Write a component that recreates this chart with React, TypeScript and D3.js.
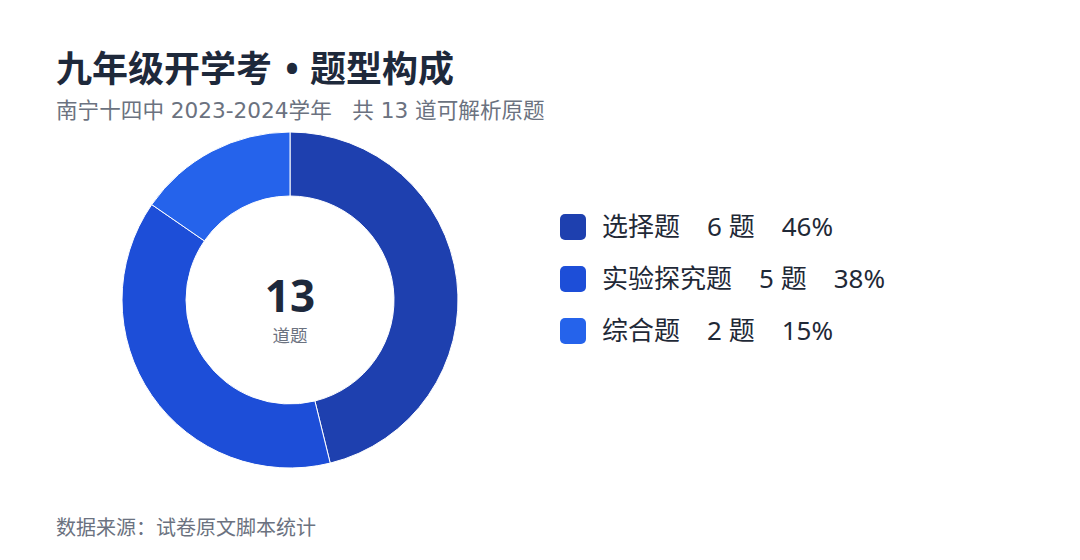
import React from "react";
import * as d3 from "d3";

const categories = ["选择题", "实验探究题", "综合题"];
const counts = [6, 5, 2];
const percents = ["46%", "38%", "15%"];
const colors = ["#1e40af", "#1d4ed8", "#2563eb"];

const W = 1080;
const H = 560;
const FONT = "'Noto Sans', 'Noto Sans CJK SC', sans-serif";
const FONT_SUB = "'DejaVu Sans', 'Noto Sans CJK SC', sans-serif";

export default function App() {
  const total = d3.sum(counts);
  const cx = 290;
  const cy = 300;
  const outerR = 168;
  const innerR = 104;
  const pie = d3.pie<number>().sort(null).value((d) => d);
  const arcs = pie(counts);
  const arc = d3.arc<d3.PieArcDatum<number>>().innerRadius(innerR).outerRadius(outerR);

  const legendY = d3.scaleBand<number>().domain(d3.range(categories.length)).range([201, 357]);

  return (
    <svg
      width={W}
      height={H}
      style={{ position: "absolute", left: 0, top: 0, background: "#fff" }}
      fontFamily={FONT}
    >
      <text y={82} fontSize={36} fontWeight={700} fill="#1e293b">
        <tspan x={56}>九年级开学考</tspan>
        <tspan x={292} textAnchor="middle">•</tspan>
        <tspan x={310}>题型构成</tspan>
      </text>
      <text x={56} y={118} fontSize={21.6} fill="#6b7280" fontFamily={FONT_SUB} xmlSpace="preserve">
        {"南宁十四中 2023-2024学年   共 13 道可解析原题"}
      </text>

      <g transform={`translate(${cx},${cy})`}>
        {arcs.map((a, i) => (
          <path key={i} d={arc(a) || ""} fill={colors[i]} stroke="#fff" strokeWidth={1} />
        ))}
        <text x={0} y={12} textAnchor="middle" fontSize={44} fontWeight={700} fill="#1e293b">
          {total}
        </text>
        <text x={0} y={42} textAnchor="middle" fontSize={17.5} fill="#6b7280">
          道题
        </text>
      </g>

      {categories.map((c, i) => {
        const yc = (legendY(i) || 0) + legendY.bandwidth() / 2;
        return (
          <g key={c}>
            <rect x={560} y={yc - 13} width={26} height={26} rx={5} fill={colors[i]} />
            <text x={602} y={yc + 9} fontSize={26} fill="#1f2937">
              <tspan>{c}</tspan>
              <tspan dx={27}>{`${counts[i]} 题`}</tspan>
              <tspan dx={27}>{percents[i]}</tspan>
            </text>
          </g>
        );
      })}

      <text x={56} y={535} fontSize={20} fill="#6b7280">
        数据来源：试卷原文脚本统计
      </text>
    </svg>
  );
}
